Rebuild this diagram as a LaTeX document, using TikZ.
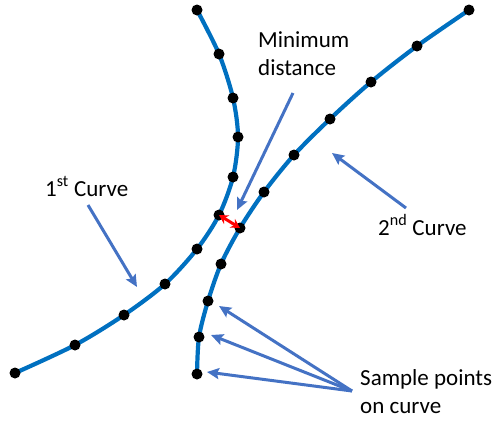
\documentclass[tikz,border=0pt]{standalone}
\usepackage{fontspec}
\setmainfont{Carlito}
\usepackage{xcolor}
\usetikzlibrary{arrows.meta}
\definecolor{curveblue}{HTML}{0070C0}
\definecolor{pointblue}{HTML}{4472C4}

\begin{document}
\begin{tikzpicture}[x=1pt, y=-1pt,
  curve/.style={curveblue, line width=4.2pt},
  sample/.style={circle, fill=black, inner sep=0pt, minimum size=11pt},
  pointer/.style={-{Stealth[length=12pt, width=11pt, inset=2pt]}, pointblue, line width=3pt},
  gap/.style={{Stealth[length=9pt, width=10pt]}-{Stealth[length=9pt, width=10pt]}, red, line width=3pt},
  lbl/.style={font=\fontsize{23}{28}\selectfont, inner sep=0pt, align=left}
]
\useasboundingbox (0,0) rectangle (492,421);

% sample points of both curves
\foreach \n/\x/\y in {1/197/10, 2/219/54, 3/233/98, 4/238/137, 5/233/177, 6/219/215,
                      7/197/249, 8/165/284, 9/124/315, 10/75/345, 11/15/373}
  \coordinate (a\n) at (\x,\y);
\foreach \n/\x/\y in {1/197/374, 2/199/337, 3/208/301, 4/221/264, 5/240/228, 6/264/192,
                      7/294/155, 8/330/119, 9/371/82, 10/417/46, 11/469/10}
  \coordinate (b\n) at (\x,\y);

\draw[curve] plot[smooth] coordinates {(a1) (a2) (a3) (a4) (a5) (a6) (a7) (a8) (a9) (a10) (a11)};
\draw[curve] plot[smooth] coordinates {(b1) (b2) (b3) (b4) (b5) (b6) (b7) (b8) (b9) (b10) (b11)};

\foreach \n in {1,...,11} {
  \node[sample] (pa\n) at (a\n) {};
  \node[sample] (pb\n) at (b\n) {};
}

\draw[gap] (a6) -- (b5);

% labels
\node[lbl, anchor=base west] (mindist) at (258,75) {Minimum\\distance};
\node[lbl, anchor=base west] (first) at (45,196) {1\textsuperscript{st} Curve};
\node[lbl, anchor=base west] (second) at (378,235) {2\textsuperscript{nd} Curve};
\node[lbl, anchor=base west] (samples) at (360,413) {Sample points\\on curve};

\coordinate (mdfrom) at (293,93);
\coordinate (mdto) at (237,210);
\coordinate (c1from) at (88,205);
\coordinate (c1to) at (137,287);
\coordinate (c2from) at (406,208);
\coordinate (c2to) at (332,153);
\coordinate (spfrom) at (352,391);
\coordinate (sp1) at (219,306);
\coordinate (sp2) at (211,335);
\coordinate (sp3) at (207,372);

\draw[pointer] (mdfrom) -- (mdto);
\draw[pointer] (c1from) -- (c1to);
\draw[pointer] (c2from) -- (c2to);
\draw[pointer] (spfrom) -- (sp1);
\draw[pointer] (spfrom) -- (sp2);
\draw[pointer] (spfrom) -- (sp3);
\end{tikzpicture}
\end{document}
